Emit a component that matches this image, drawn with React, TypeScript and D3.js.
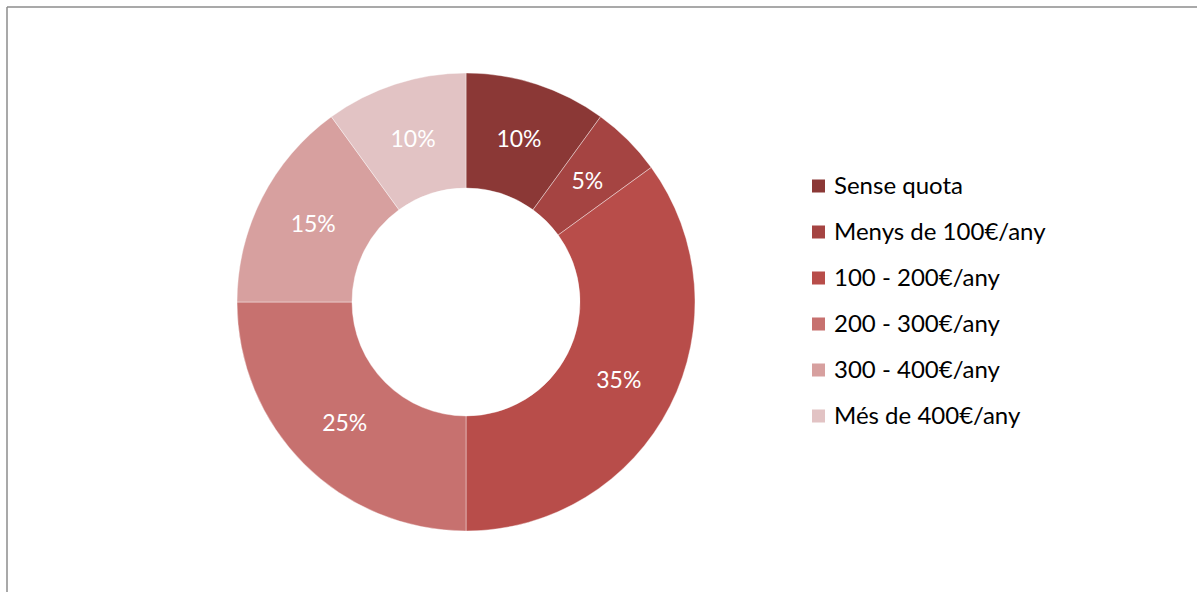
import React from "react";
import * as d3 from "d3";

const categories = ["Sense quota", "Menys de 100€/any", "100 - 200€/any", "200 - 300€/any", "300 - 400€/any", "Més de 400€/any"];
const values = [10, 5, 35, 25, 15, 10];
const colors = ["#8B3836", "#A54442", "#B84D4A", "#C7716F", "#D7A09F", "#E2C3C4"];

const W = 1197;
const H = 592;
const cx = 466;
const cy = 302;
const outerR = 229;
const innerR = 114;
const FONT = "Lato, 'Open Sans', sans-serif";

export default function App() {
  const pie = d3.pie<number>().sort(null).value((d) => d);
  const arcs = pie(values);
  const arc = d3.arc<d3.PieArcDatum<number>>().innerRadius(innerR).outerRadius(outerR);
  const total = d3.sum(values);
  const legendY = d3.scalePoint<string>().domain(categories).range([186, 416]);

  return (
    <div style={{ position: "fixed", left: 0, top: 0 }}>
      <svg width={W} height={H} style={{ display: "block" }}>
        <rect x={0} y={0} width={W} height={H} fill="#fff" />
        <line x1={7} y1={7} x2={W} y2={7} stroke="#8c8c8c" strokeWidth={1.5} />
        <line x1={7} y1={7} x2={7} y2={H} stroke="#8c8c8c" strokeWidth={1.5} />
        <g transform={`translate(${cx},${cy})`}>
          {arcs.map((a, i) => (
            <path key={i} d={arc(a) || ""} fill={colors[i]} stroke="#fff" strokeWidth={0.4} />
          ))}
          {arcs.map((a, i) => {
            const [x, y] = arc.centroid(a);
            return (
              <text key={i} x={x} y={y} dy="0.35em" textAnchor="middle" fill="#fff" fontFamily={FONT} fontSize={23}>
                {`${Math.round((values[i] / total) * 100)}%`}
              </text>
            );
          })}
        </g>
        {categories.map((c, i) => (
          <g key={c} transform={`translate(812,${legendY(c)})`}>
            <rect x={0} y={-6.5} width={13} height={13} fill={colors[i]} />
            <text x={22} y={0} dy="0.35em" fontFamily={FONT} fontSize={24} fill="#000">
              {c}
            </text>
          </g>
        ))}
      </svg>
    </div>
  );
}
